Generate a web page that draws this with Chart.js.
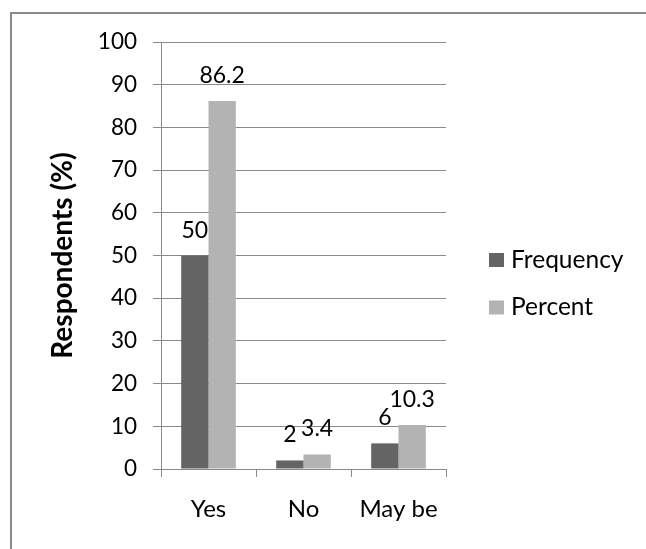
<!DOCTYPE html>
<html lang="en">
<head>
    <meta charset="UTF-8">
    <title>Respondents</title>
    <script src="https://cdn.jsdelivr.net/npm/chart.js"></script>
    <style>
        body { margin: 0; background: #fff; }
        .frame {
            position: absolute; left: 10px; top: 12px; width: 650px; height: 560px;
            border-top: 2px solid #8a8a8a; border-left: 2px solid #8a8a8a;
        }
        #chart { position: absolute; left: 0; top: 0; }
    </style>
</head>
<body>
    <div class="frame"></div>
    <canvas id="chart" width="646" height="549"></canvas>

    <script>
        // data
        const categories = ['Yes', 'No', 'May be'];
        const frequency = [50, 2, 6];
        const percent = [86.2, 3.4, 10.3];
        const seriesNames = ['Frequency', 'Percent'];
        const seriesColors = ['#646464', '#b3b3b3'];

        const FONT = 'Lato';
        const gridColor = '#8a8a8a';

        // value labels above the bars
        const barLabels = {
            id: 'barLabels',
            afterDatasetsDraw(chart) {
                const ctx = chart.ctx;
                ctx.save();
                ctx.font = '23px ' + FONT;
                ctx.fillStyle = '#000';
                ctx.textAlign = 'center';
                ctx.textBaseline = 'alphabetic';
                chart.data.datasets.forEach((ds, i) => {
                    chart.getDatasetMeta(i).data.forEach((bar, j) => {
                        ctx.fillText(String(ds.data[j]), bar.x, bar.y - 18);
                    });
                });
                ctx.restore();
            }
        };

        // legend on the right, drawn like the original
        const sideLegend = {
            id: 'sideLegend',
            afterDraw(chart) {
                const ctx = chart.ctx;
                ctx.save();
                ctx.font = '24.5px ' + FONT;
                ctx.textBaseline = 'alphabetic';
                ctx.textAlign = 'left';
                chart.data.datasets.forEach((ds, i) => {
                    const y = 253 + i * 47.5;
                    ctx.fillStyle = ds.backgroundColor;
                    ctx.fillRect(489, y, 15, 14);
                    ctx.fillStyle = '#000';
                    ctx.fillText(ds.label, 511, y + 14.5);
                });
                ctx.restore();
            }
        };

        new Chart(document.getElementById('chart'), {
            type: 'bar',
            data: {
                labels: categories,
                datasets: [
                    { label: seriesNames[0], data: frequency, backgroundColor: seriesColors[0] },
                    { label: seriesNames[1], data: percent, backgroundColor: seriesColors[1] }
                ]
            },
            options: {
                responsive: false,
                animation: false,
                devicePixelRatio: 1,
                layout: { padding: { left: 0, top: 42, right: 200, bottom: 0 } },
                datasets: { bar: { categoryPercentage: 0.575, barPercentage: 1 } },
                plugins: {
                    legend: { display: false },
                    tooltip: { enabled: false }
                },
                scales: {
                    x: {
                        grid: { offset: true, drawOnChartArea: false, tickLength: 8, color: gridColor },
                        border: { color: gridColor },
                        ticks: { color: '#000', font: { family: FONT, size: 24 }, padding: 18 },
                        afterFit: s => { s.height = 80; }
                    },
                    y: {
                        min: 0,
                        max: 100,
                        ticks: { stepSize: 10, color: '#000', font: { family: FONT, size: 22.5 }, padding: 16 },
                        grid: { color: gridColor, tickLength: 8 },
                        border: { color: gridColor },
                        title: {
                            display: true,
                            text: 'Respondents (%)',
                            color: '#000',
                            font: { family: FONT, size: 28, weight: 'bold' },
                            padding: { top: 46, bottom: 0 }
                        },
                        afterFit: s => { s.width = 161; }
                    }
                }
            },
            plugins: [barLabels, sideLegend]
        });
    </script>
</body>
</html>
